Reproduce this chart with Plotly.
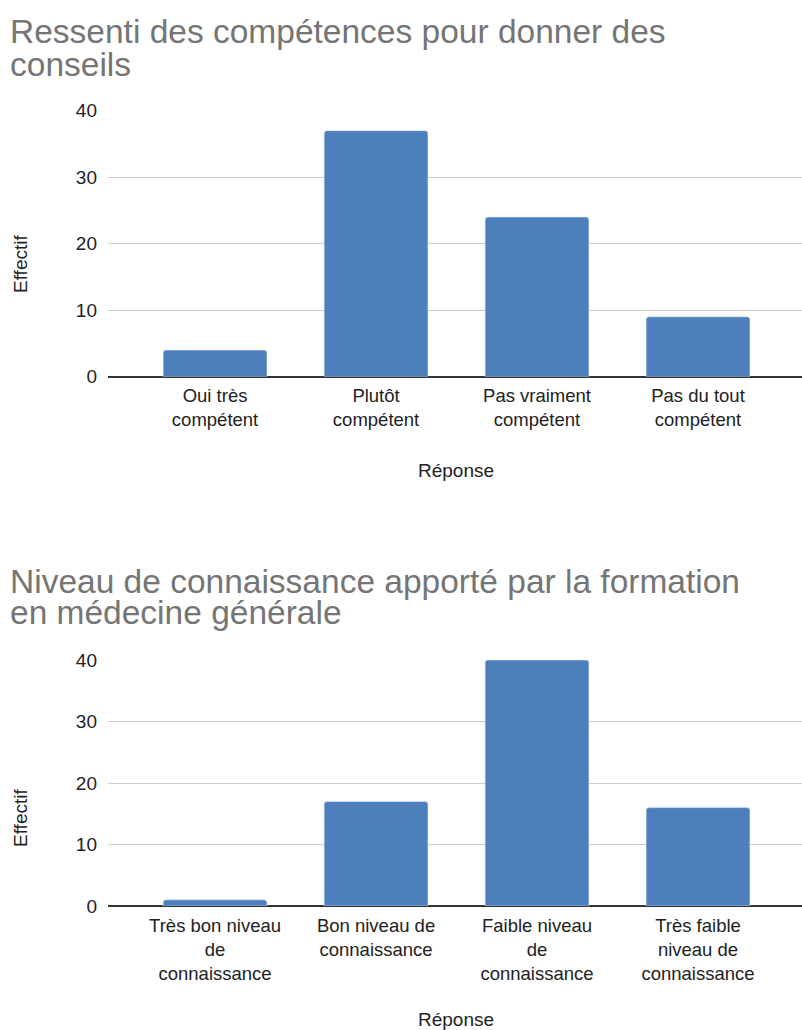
import plotly.graph_objects as go

# Survey responses: self-assessed competence to give advice
comp_labels = ["Oui très<br>compétent", "Plutôt<br>compétent",
               "Pas vraiment<br>compétent", "Pas du tout<br>compétent"]
comp_counts = [4, 37, 24, 9]

# Survey responses: knowledge level brought by general-practice training
know_labels = ["Très bon niveau<br>de<br>connaissance", "Bon niveau de<br>connaissance",
               "Faible niveau<br>de<br>connaissance", "Très faible<br>niveau de<br>connaissance"]
know_counts = [1, 17, 40, 16]

y_ticks = [0, 10, 20, 30, 40]

W, H = 802, 1030
FONT = "Liberation Sans, Arial, sans-serif"
BAR = "#4e7fbd"
TXT = "#222222"

def py(px):
    return 1 - px / H

fig = go.Figure()
fig.add_trace(go.Bar(x=list(range(4)), y=comp_counts, marker_color=BAR,
                     width=0.645, xaxis="x", yaxis="y", hoverinfo="skip"))
fig.add_trace(go.Bar(x=list(range(4)), y=know_counts, marker_color=BAR,
                     width=0.645, xaxis="x2", yaxis="y2", hoverinfo="skip"))

xdom = [108 / W, 1.0]
common_x = dict(domain=xdom, range=[-0.665, 3.646], tickmode="array",
                tickvals=list(range(4)), showgrid=False, zeroline=False,
                showline=False, ticks="", ticklabelstandoff=6, automargin=False,
                tickfont=dict(family=FONT, size=18.5, color=TXT))
common_y = dict(range=[0, 40], tickvals=y_ticks, showgrid=True,
                gridcolor="#cccccc", gridwidth=1.2, zeroline=True,
                zerolinecolor="#333333", zerolinewidth=1.5, showline=False,
                ticks="", ticklabelstandoff=10, automargin=False,
                tickfont=dict(family=FONT, size=19, color=TXT))

fig.update_layout(
    width=W, height=H, margin=dict(l=0, r=0, t=0, b=0, autoexpand=False),
    paper_bgcolor="white", plot_bgcolor="white", showlegend=False,
    barcornerradius=3,
    xaxis=dict(common_x, anchor="y", ticktext=comp_labels),
    yaxis=dict(common_y, anchor="x", domain=[py(376.7), py(110.7)]),
    xaxis2=dict(common_x, anchor="y2", ticktext=know_labels),
    yaxis2=dict(common_y, anchor="x2", domain=[py(906), py(660)]),
)

ann = []
def text(x, y, s, size, color=TXT, angle=0, xanchor="left"):
    ann.append(dict(x=x / W, y=py(y), xref="paper", yref="paper", text=s,
                    showarrow=False, xanchor=xanchor, yanchor="middle",
                    textangle=angle,
                    font=dict(family=FONT, size=size, color=color)))

TITLE = "#757575"
text(8, 32, "Ressenti des compétences pour donner des", 33.5, TITLE)
text(8, 64, "conseils", 33.5, TITLE)
text(8, 581, "Niveau de connaissance apporté par la formation", 33.5, TITLE)
text(8, 612, "en médecine générale", 33.5, TITLE)

text(456, 470, "Réponse", 19, xanchor="center")
text(456, 1019, "Réponse", 19, xanchor="center")
text(20, 264, "Effectif", 19, angle=-90, xanchor="center")
text(20, 818, "Effectif", 19, angle=-90, xanchor="center")

fig.update_layout(annotations=ann)
fig.write_html("out.html")
